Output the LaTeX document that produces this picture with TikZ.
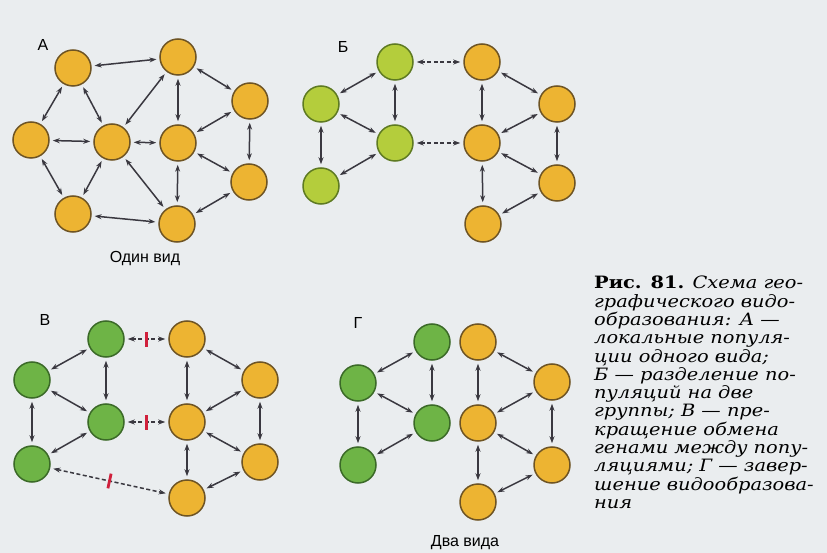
\documentclass[tikz,border=0pt]{standalone}
\usepackage{fontspec}
\setmainfont{DejaVu Serif}
\newfontfamily\capfont[FakeStretch=1.14]{DejaVu Serif}
\newfontfamily\labelfont{Liberation Sans}
\usetikzlibrary{arrows.meta, positioning}
\definecolor{paper}{HTML}{EAEDEF}
\definecolor{oneFill}{HTML}{EDB432}
\definecolor{oneLine}{HTML}{6E5424}
\definecolor{paleFill}{HTML}{B4CD3C}
\definecolor{paleLine}{HTML}{5E7A22}
\definecolor{twoFill}{HTML}{6EB446}
\definecolor{twoLine}{HTML}{3B6A28}
\definecolor{linkGray}{HTML}{3A3840}
\definecolor{barRed}{HTML}{D0203C}
\tikzset{
    pop/.style ={circle, draw, line width=1.5pt, minimum size=36pt, inner sep=0pt},
    sp1/.style ={pop, fill=oneFill, draw=oneLine},
    sp2pale/.style ={pop, fill=paleFill, draw=paleLine},
    sp2/.style ={pop, fill=twoFill, draw=twoLine},
    link/.style ={<->, draw=linkGray, line width=1.5pt, shorten >=3pt, shorten <=3pt},
    broken/.style ={link, dash pattern=on 4pt off 2.5pt},
    cut/.style ={rectangle, fill=barRed, minimum width=2.8pt, minimum height=15pt,
                 inner sep=0pt, sloped},
    tag/.style ={font=\labelfont\fontsize{16}{16}\selectfont}
    }

\begin{document}
\begin{tikzpicture}[
      x=1pt, y=-1pt, % pixel grid, y down
      > = {Stealth[length=7pt, width=5pt]}
    ]
    \fill[paper] (0,0) rectangle (827,553);
    \useasboundingbox (0,0) rectangle (827,553);

    % A
    \node[tag] at (43,45) {А};
    \node[sp1] (a1) at (73,68) {};
    \node[sp1] (a2) at (178,57) {};
    \node[sp1] (a3) at (250,101) {};
    \node[sp1] (a4) at (31,140) {};
    \node[sp1] (a5) at (112,142) {};
    \node[sp1] (a6) at (178,143) {};
    \node[sp1] (a7) at (249,182) {};
    \node[sp1] (a8) at (73,214) {};
    \node[sp1] (a9) at (177,224) {};
    \node[tag] at (145,259) {Один вид};

    \path[link] (a1) edge (a2);
    \path[link] (a1) edge (a4);
    \path[link] (a1) edge (a5);
    \path[link] (a2) edge (a5);
    \path[link] (a2) edge (a6);
    \path[link] (a2) edge (a3);
    \path[link] (a3) edge (a6);
    \path[link] (a3) edge (a7);
    \path[link] (a4) edge (a5);
    \path[link] (a4) edge (a8);
    \path[link] (a5) edge (a8);
    \path[link] (a5) edge (a6);
    \path[link] (a5) edge (a9);
    \path[link] (a6) edge (a9);
    \path[link] (a6) edge (a7);
    \path[link] (a7) edge (a9);
    \path[link] (a8) edge (a9);

    % B
    \node[tag] at (343,47) {Б};
    \node[sp2pale] (b1) at (395,62) {};
    \node[sp2pale] (b2) at (321,104) {};
    \node[sp2pale] (b3) at (395,143) {};
    \node[sp2pale] (b4) at (321,186) {};
    \node[sp1] (b5) at (482,62) {};
    \node[sp1] (b6) at (557,104) {};
    \node[sp1] (b7) at (482,143) {};
    \node[sp1] (b8) at (557,183) {};
    \node[sp1] (b9) at (483,224) {};

    \path[link] (b1) edge (b2);
    \path[link] (b1) edge (b3);
    \path[link] (b2) edge (b3);
    \path[link] (b2) edge (b4);
    \path[link] (b3) edge (b4);
    \path[broken] (b1) edge (b5);
    \path[broken] (b3) edge (b7);
    \path[link] (b5) edge (b6);
    \path[link] (b5) edge (b7);
    \path[link] (b6) edge (b7);
    \path[link] (b6) edge (b8);
    \path[link] (b7) edge (b8);
    \path[link] (b7) edge (b9);
    \path[link] (b8) edge (b9);

    % V
    \node[tag] at (45,320) {В};
    \node[sp2] (v1) at (106,339) {};
    \node[sp2] (v2) at (32,380) {};
    \node[sp2] (v3) at (106,422) {};
    \node[sp2] (v4) at (32,464) {};
    \node[sp1] (v5) at (187,339) {};
    \node[sp1] (v6) at (260,380) {};
    \node[sp1] (v7) at (187,422) {};
    \node[sp1] (v8) at (260,462) {};
    \node[sp1] (v9) at (187,498) {};

    \path[link] (v1) edge (v2);
    \path[link] (v1) edge (v3);
    \path[link] (v2) edge (v3);
    \path[link] (v2) edge (v4);
    \path[link] (v3) edge (v4);
    \path[broken] (v1) edge node[cut]{} (v5);
    \path[broken] (v3) edge node[cut]{} (v7);
    \path[broken] (v4) edge node[cut]{} (v9);
    \path[link] (v5) edge (v6);
    \path[link] (v5) edge (v7);
    \path[link] (v6) edge (v7);
    \path[link] (v6) edge (v8);
    \path[link] (v7) edge (v8);
    \path[link] (v7) edge (v9);
    \path[link] (v8) edge (v9);

    % G
    \node[tag] at (358,323) {Г};
    \node[sp2] (g1) at (432,342) {};
    \node[sp2] (g2) at (358,383) {};
    \node[sp2] (g3) at (432,423) {};
    \node[sp2] (g4) at (358,465) {};
    \node[sp1] (g5) at (478,342) {};
    \node[sp1] (g6) at (552,382) {};
    \node[sp1] (g7) at (478,423) {};
    \node[sp1] (g8) at (552,465) {};
    \node[sp1] (g9) at (478,502) {};
    \node[tag] at (465,543) {Два вида};

    \path[link] (g1) edge (g2);
    \path[link] (g1) edge (g3);
    \path[link] (g2) edge (g3);
    \path[link] (g2) edge (g4);
    \path[link] (g3) edge (g4);
    \path[link] (g5) edge (g6);
    \path[link] (g5) edge (g7);
    \path[link] (g6) edge (g7);
    \path[link] (g6) edge (g8);
    \path[link] (g7) edge (g8);
    \path[link] (g7) edge (g9);
    \path[link] (g8) edge (g9);

    \node[anchor=north west, inner sep=0pt, align=left,
          font=\capfont\fontsize{17}{18.3}\selectfont] (caption) at (594,276)
      {\textbf{Рис. 81.} \textit{Схема гео-}\\
       \textit{графического видо-}\\
       \textit{образования: А —}\\
       \textit{локальные популя-}\\
       \textit{ции одного вида;}\\
       \textit{Б — разделение по-}\\
       \textit{пуляций на две}\\
       \textit{группы; В — пре-}\\
       \textit{кращение обмена}\\
       \textit{генами между попу-}\\
       \textit{ляциями; Г — завер-}\\
       \textit{шение видообразова-}\\
       \textit{ния}};
\end{tikzpicture}
\end{document}
